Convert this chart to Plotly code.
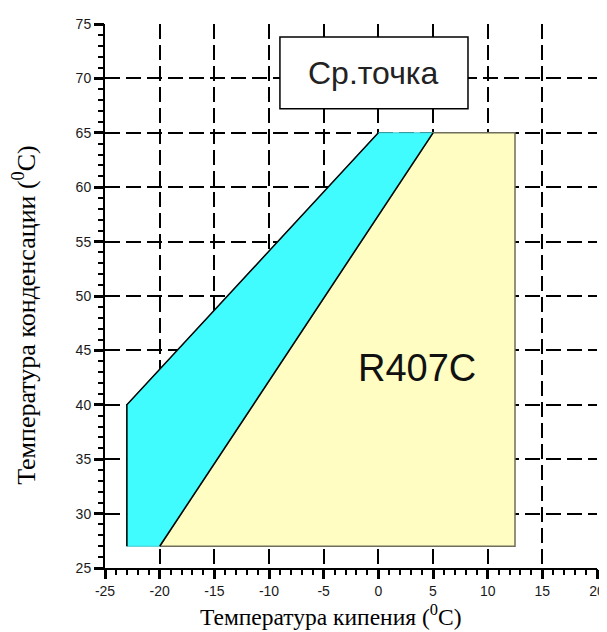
import plotly.graph_objects as go

# Data
cyan_x = [-23, -23, 0, 5, -20, -23]
cyan_y = [27, 40, 65, 65, 27, 27]
yellow_x = [-20, 5, 12.5, 12.5, -20]
yellow_y = [27, 65, 65, 27, 27]
edge1_x = [-23, -23, 0]
edge1_y = [27, 40, 65]
edge2_x = [-20, 5]
edge2_y = [27, 65]
x_range = [-25, 20]
y_range = [25, 75]
x_tick_vals = [-25, -20, -15, -10, -5, 0, 5, 10, 15, 20]
x_tick_text = ["-25", "-20", "-15", "-10", "-5", "0", "5", "10", "15", "20"]
y_tick_vals = [25, 30, 35, 40, 45, 50, 55, 60, 65, 70, 75]
y_tick_text = ["25", "30", "35", "40", "45", "50", "55", "60", "65", "70", "75"]
minor_step = 1
box_x = [-9, 8.2]
box_y = [67.2, 73.8]
box_label = "Ср.точка"
region_label = "R407C"
region_pos = [3.5, 43.4]

fig = go.Figure()
fig.add_trace(go.Scatter(x=yellow_x, y=yellow_y, fill="toself", fillcolor="#FFFDC2",
                         mode="lines", line=dict(color="#6e6e5a", width=1.5),
                         hoverinfo="skip", showlegend=False))
fig.add_trace(go.Scatter(x=cyan_x, y=cyan_y, fill="toself", fillcolor="#40FCFF",
                         mode="lines", line=dict(color="#45c8cc", width=1),
                         hoverinfo="skip", showlegend=False))
fig.add_trace(go.Scatter(x=edge1_x, y=edge1_y, mode="lines", xaxis="x2", yaxis="y2",
                         line=dict(color="black", width=1.5), hoverinfo="skip", showlegend=False))
fig.add_trace(go.Scatter(x=edge2_x, y=edge2_y, mode="lines", xaxis="x2", yaxis="y2",
                         line=dict(color="black", width=1.5), hoverinfo="skip", showlegend=False))

fig.add_shape(type="rect", xref="x", yref="y", x0=box_x[0], x1=box_x[1], y0=box_y[0], y1=box_y[1],
              fillcolor="white", line=dict(color="black", width=1.5), layer="above")
fig.add_annotation(x=sum(box_x) / 2, y=sum(box_y) / 2, text=box_label, showarrow=False,
                   font=dict(family="Liberation Sans, Arial", size=32, color="#222"))
fig.add_annotation(x=region_pos[0], y=region_pos[1], text=region_label, showarrow=False,
                   font=dict(family="Liberation Sans, Arial", size=38, color="#111"))

fig.add_annotation(xref="paper", yref="paper", x=0.459, y=-0.086, xanchor="center", yanchor="middle",
                   text="Температура кипения (<sup>0</sup>C)", showarrow=False,
                   font=dict(family="Liberation Serif, Times New Roman", size=23.5, color="black"))
fig.add_annotation(xref="paper", yref="paper", x=-0.165, y=0.465, xanchor="center", yanchor="middle",
                   text="Температура конденсации (<sup>0</sup>C)", showarrow=False, textangle=-90,
                   font=dict(family="Liberation Serif, Times New Roman", size=26, color="black"))

axis_common = dict(showline=True, linecolor="black", linewidth=2, ticks="outside", ticklen=9,
                   tickwidth=2.5, tickcolor="#000000", showgrid=True, gridcolor="black", gridwidth=2,
                   griddash="15px,6px", zeroline=False, mirror=False, automargin=False,
                   layer="above traces",
                   tickfont=dict(family="Liberation Sans, Arial", size=14, color="#1a1a1a"))
minor_common = dict(showline=False, ticks="outside", ticklen=6, tickwidth=2, tickcolor="#000000",
                    showgrid=False, zeroline=False, showticklabels=False, automargin=False,
                    tickmode="linear", tick0=0, dtick=minor_step)

fig.update_layout(
    template="none",
    width=599, height=624, margin=dict(l=97, r=10, t=16, b=64),
    plot_bgcolor="white", paper_bgcolor="white",
    xaxis=dict(range=x_range, tickmode="array", tickvals=x_tick_vals, ticktext=x_tick_text,
               **axis_common),
    yaxis=dict(range=y_range, tickmode="array", tickvals=y_tick_vals, ticktext=y_tick_text,
               **axis_common),
    xaxis2=dict(range=x_range, overlaying="x", anchor="y", side="bottom", **minor_common),
    yaxis2=dict(range=y_range, overlaying="y", anchor="x", side="left", **minor_common),
)
fig.write_html("out.html")
